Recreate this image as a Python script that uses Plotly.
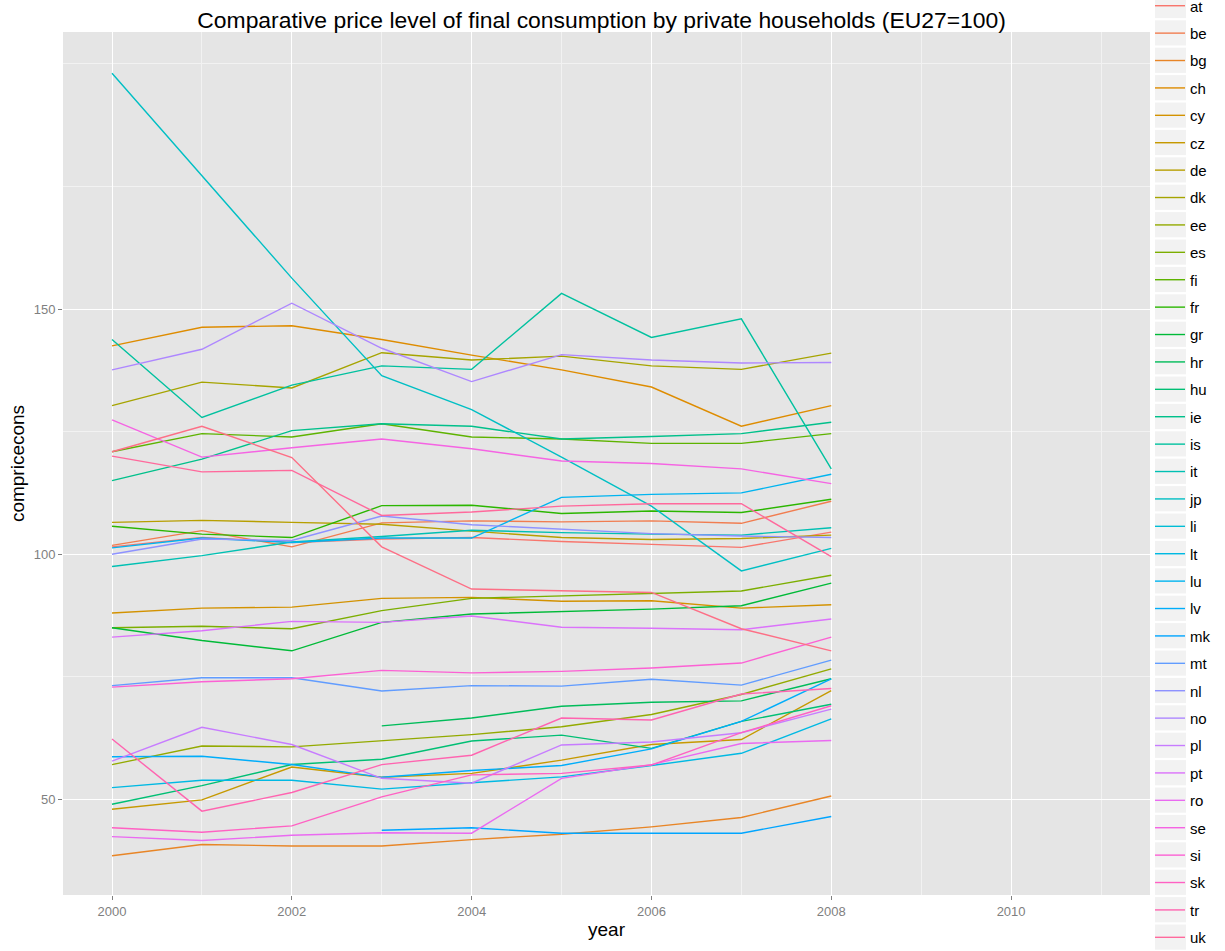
import math
import plotly.graph_objects as go

years = [2000, 2001, 2002, 2003, 2004, 2005, 2006, 2007, 2008]

countries = ["at", "be", "bg", "ch", "cy", "cz", "de", "dk", "ee", "es", "fi", "fr",
             "gr", "hr", "hu", "ie", "is", "it", "jp", "li", "lt", "lu", "lv", "mk",
             "mt", "nl", "no", "pl", "pt", "ro", "se", "si", "sk", "tr", "uk", "us"]

at = [101.5, 103.4, 102.4, 103.1, 103.4, 102.6, 102.0, 101.4, 104.5]
be = [101.8, 104.8, 101.5, 106.4, 106.8, 106.6, 106.8, 106.3, 110.8]
bg = [38.5, 40.8, 40.5, 40.5, 41.8, 42.9, 44.4, 46.3, 50.7]
ch = [142.5, 146.3, 146.6, 143.8, 140.6, 137.6, 134.1, 126.1, 130.3]
cy = [88.0, 89.0, 89.2, 91.0, 91.2, 90.4, 90.5, 89.0, 89.7]
cz = [48.0, 49.9, 56.6, 54.5, 55.3, 58.0, 61.2, 62.2, 72.2]
de = [106.5, 106.9, 106.5, 106.1, 104.7, 103.4, 103.0, 103.2, 103.9]
dk = [130.3, 135.1, 133.9, 141.1, 139.6, 140.4, 138.4, 137.7, 141.0]
ee = [57.1, 60.9, 60.7, 62.0, 63.2, 64.8, 67.3, 71.4, 76.6]
es = [85.0, 85.3, 84.8, 88.5, 91.0, 91.5, 92.1, 92.5, 95.7]
fi = [120.9, 124.6, 123.9, 126.6, 123.9, 123.5, 122.6, 122.6, 124.6]
fr = [105.7, 104.1, 103.4, 109.9, 110.0, 108.3, 108.8, 108.5, 111.2]
gr = [85.0, 82.4, 80.3, 86.1, 87.8, 88.3, 88.8, 89.5, 94.1]
hr = [None, None, None, 65.0, 66.6, 69.0, 69.8, 70.1, 74.6]
hu = [49.0, 52.8, 57.1, 58.2, 61.9, 63.1, 60.4, 65.9, 69.4]
ie = [115.0, 119.4, 125.2, 126.6, 126.1, 123.5, 124.0, 124.6, 126.9]
is_ = [143.8, 127.9, 134.5, 138.4, 137.7, 153.2, 144.2, 148.0, 117.4]
it = [97.5, 99.7, 102.5, 103.6, 104.9, 104.4, 104.1, 103.9, 105.4]
jp = [198.1, 177.3, 156.3, 136.4, 129.5, 119.8, 109.8, 96.6, 101.2]
li = [None, None, None, None, None, None, None, None, None]
lt = [52.4, 53.9, 53.9, 52.1, 53.4, 54.6, 56.9, 59.4, 66.4]
lu = [101.3, 103.3, 102.4, 103.3, 103.3, 111.6, 112.2, 112.5, 116.3]
lv = [58.7, 58.8, 57.1, 54.5, 55.9, 56.9, 60.3, 65.9, 74.6]
mk = [None, None, None, 43.7, 44.2, 43.1, 43.1, 43.1, 46.5]
mt = [73.2, 74.8, 74.8, 72.1, 73.2, 73.1, 74.5, 73.3, 78.4]
nl = [100.0, 103.1, 102.8, 107.8, 106.0, 105.1, 104.2, 103.7, 103.4]
no = [137.6, 141.8, 151.2, 142.0, 135.2, 140.7, 139.6, 139.0, 139.1]
pl = [57.8, 64.7, 61.2, 54.3, 53.3, 61.1, 61.7, 63.6, 68.4]
pt = [83.1, 84.4, 86.3, 86.1, 87.4, 85.1, 84.9, 84.6, 86.8]
ro = [42.4, 41.6, 42.7, 43.2, 43.1, 54.3, 57.1, 61.4, 62.0]
se = [127.4, 119.8, 121.7, 123.5, 121.5, 119.0, 118.5, 117.4, 114.4]
si = [72.9, 74.0, 74.6, 76.3, 75.8, 76.1, 76.8, 77.8, 83.1]
sk = [44.2, 43.3, 44.6, 50.5, 55.0, 55.3, 57.0, 63.6, 69.1]
tr = [62.3, 47.6, 51.4, 57.1, 59.0, 66.6, 66.2, 71.5, 72.6]
uk = [120.0, 116.8, 117.1, 107.9, 108.6, 109.8, 110.3, 110.3, 99.5]
us = [120.9, 126.1, 119.7, 101.5, 92.9, 92.5, 92.2, 84.8, 80.3]

series = [at, be, bg, ch, cy, cz, de, dk, ee, es, fi, fr, gr, hr, hu, ie, is_, it, jp,
          li, lt, lu, lv, mk, mt, nl, no, pl, pt, ro, se, si, sk, tr, uk, us]

x_ticks = [2000, 2002, 2004, 2006, 2008, 2010]
x_minor = [2001, 2003, 2005, 2007, 2009, 2011]
y_ticks = [50, 100, 150]
y_minor = [75, 125, 175, 200]


def hcl_hex(h, c=100.0, l=65.0):
    # CIE-LUV polar (as in R's hcl()) -> sRGB
    xn, yn, zn = 95.047, 100.0, 108.883
    un = 4 * xn / (xn + 15 * yn + 3 * zn)
    vn = 9 * yn / (xn + 15 * yn + 3 * zn)
    hr_ = math.radians(h)
    u_ = c * math.cos(hr_)
    v_ = c * math.sin(hr_)
    Y = yn * (((l + 16) / 116) ** 3 if l > 8 else l / 903.3)
    u = u_ / (13 * l) + un
    v = v_ / (13 * l) + vn
    X = 9.0 * Y * u / (4 * v)
    Z = -X / 3 - 5 * Y + 3 * Y / v
    X, Y, Z = X / 100, Y / 100, Z / 100
    r = 3.240479 * X - 1.537150 * Y - 0.498535 * Z
    g = -0.969256 * X + 1.875992 * Y + 0.041556 * Z
    b = 0.055648 * X - 0.204043 * Y + 1.057311 * Z

    def gam(t):
        t = 12.92 * t if t <= 0.0031308 else 1.055 * t ** (1 / 2.4) - 0.055
        return int(round(min(max(t, 0), 1) * 255))

    return "#%02X%02X%02X" % (gam(r), gam(g), gam(b))


n = len(countries)
colors = [hcl_hex(15 + 360.0 / n * i) for i in range(n)]

W, H = 1225, 951
ML, MR, MT, MB = 63, 75, 32, 56
PW, PH = W - ML - MR, H - MT - MB

fig = go.Figure()
for name, vals, col in zip(countries, series, colors):
    fig.add_trace(go.Scatter(
        x=years, y=vals, mode="lines", name=name, legendgroup=name,
        line=dict(color=col, width=1.4), connectgaps=False,
        hoverinfo="x+y+name",
    ))

# grey legend-key backgrounds (ggplot style), one per legend entry
KEY_STEP = 27.4
KEY_FIRST = 5.5
key_shapes = []
for i in range(n):
    yc = KEY_FIRST + KEY_STEP * i
    key_shapes.append(dict(
        type="rect", xref="paper", yref="paper", layer="below",
        x0=(1155 - ML) / PW, x1=(1186 - ML) / PW,
        y0=(H - MB - (yc + 12.6)) / PH, y1=(H - MB - (yc - 12.6)) / PH,
        fillcolor="#F2F2F2", line=dict(width=0),
    ))

FONT = "Liberation Sans, Arial, sans-serif"

fig.update_layout(
    width=W, height=H,
    margin=dict(l=ML, r=MR, t=MT, b=MB, autoexpand=False),
    paper_bgcolor="white",
    plot_bgcolor="#E5E5E5",
    font=dict(family=FONT, color="black"),
    shapes=key_shapes,
    title=dict(
        text="Comparative price level of final consumption by private households (EU27=100)",
        x=0.4955, xref="paper", xanchor="center",
        y=1 - 20 / H, yref="container", yanchor="middle",
        font=dict(size=22.9, color="black", family=FONT),
    ),
    xaxis=dict(
        range=[1999.455, 2011.545], tickvals=x_ticks, ticktext=[str(v) for v in x_ticks],
        showgrid=True, gridcolor="white", gridwidth=1.2, zeroline=False, showline=False,
        ticks="outside", ticklen=4, tickcolor="#7F7F7F", tickwidth=1,
        tickfont=dict(size=13, color="#7F7F7F"),
        minor=dict(tickvals=x_minor, showgrid=True, gridcolor="#F2F2F2", gridwidth=0.6, ticks=""),
        title=dict(text="year", font=dict(size=19, color="black"), standoff=5),
    ),
    yaxis=dict(
        range=[30.5, 206.5], tickvals=y_ticks, ticktext=[str(v) for v in y_ticks],
        showgrid=True, gridcolor="white", gridwidth=1.2, zeroline=False, showline=False,
        ticks="outside", ticklen=4, tickcolor="#7F7F7F", tickwidth=1,
        tickfont=dict(size=13, color="#7F7F7F"),
        minor=dict(tickvals=y_minor, showgrid=True, gridcolor="#F2F2F2", gridwidth=0.6, ticks=""),
        title=dict(text="compricecons", font=dict(size=19, color="black"), standoff=4),
    ),
    legend=dict(
        x=(1150 - ML) / PW, xanchor="left", y=1.0487 + 0.5 / PH, yanchor="top",
        traceorder="grouped", tracegroupgap=4.9, itemwidth=30,
        font=dict(size=15, color="black", family=FONT),
        bgcolor="rgba(0,0,0,0)", borderwidth=0, maxheight=3000,
    ),
    showlegend=True,
)

fig.write_html(
    "out.html",
    config={"displayModeBar": False},
    post_script="document.body.style.margin='0';document.body.style.padding='0';",
)
